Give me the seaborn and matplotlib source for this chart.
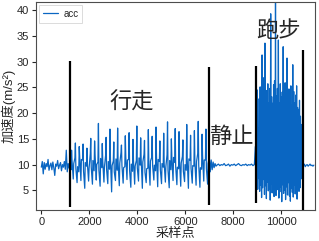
import numpy as np
import pandas as pd
import matplotlib
matplotlib.use("Agg")
import matplotlib.pyplot as plt
import seaborn as sns

# ---------------- data ----------------
# resting segment before walking (samples 0..1200, every 40 samples)
rest0 = [9.5, 10.6, 8.2, 10.4, 9.1, 10.2, 9.6, 11.0, 8.9, 9.8, 10.3, 9.0, 10.5, 9.4, 7.9,
         10.1, 9.7, 10.8, 9.2, 9.9, 10.4, 8.8, 10.0, 9.5, 10.6, 9.1, 12.8, 8.6, 10.2, 9.3, 10.8]

# walking: one step every 160 samples, five readings per step
walk_mid_up = [9.0, 11.3, 8.6, 10.9, 9.7, 12.1, 8.8, 10.5, 9.4, 11.8, 9.1, 10.7, 8.9, 12.3, 9.6,
               11.0, 8.7, 10.8, 9.9, 12.0, 9.3, 11.4, 8.8, 10.6, 9.5, 11.9, 9.0, 10.4, 9.2, 11.6,
               8.9, 10.8, 9.7, 12.2, 9.1, 10.9]
walk_peaks = [12.8, 14.2, 13.5, 14.0, 13.2, 15.1, 14.6, 18.0, 14.1, 15.3, 16.9, 14.4, 17.1, 13.8,
              15.6, 16.2, 14.9, 17.5, 15.2, 14.7, 16.8, 15.5, 17.3, 14.6, 16.1, 18.3, 15.0, 17.0,
              16.4, 14.8, 17.8, 15.7, 16.6, 18.4, 15.9, 16.9]
walk_mid_down = [10.8, 9.2, 11.4, 8.7, 10.1, 9.5, 11.9, 8.9, 10.6, 9.1, 11.2, 8.6, 10.3, 9.8, 11.5,
                 8.8, 10.9, 9.4, 11.1, 8.5, 10.4, 9.7, 11.6, 9.0, 10.2, 8.9, 11.3, 9.6, 10.7, 8.7,
                 11.0, 9.3, 10.5, 9.9, 11.7, 9.2]
walk_troughs = [7.2, 6.5, 6.9, 5.4, 6.8, 6.2, 7.0, 5.8, 6.6, 6.3, 4.7, 6.9, 5.9, 6.4, 7.1, 5.6,
                6.2, 6.8, 5.4, 6.5, 6.0, 7.0, 5.7, 6.3, 6.6, 5.5, 6.9, 6.1, 5.8, 6.7, 5.4, 6.4,
                6.0, 5.6, 6.8, 6.2]
walk_core = [10.2, 9.6, 11.0, 10.4, 9.3, 10.8, 10.0, 11.2, 9.5, 10.6, 9.8, 11.1, 10.3, 9.4, 10.9,
             10.1, 9.7, 11.3, 10.5, 9.2, 10.7, 9.9, 11.0, 10.2, 9.6, 10.8, 11.4, 9.5, 10.3, 10.0,
             11.1, 9.8, 10.6, 9.4, 10.9, 10.2]

# settling after walking (every 40 samples from 7000)
settle = [11.5, 8.6, 10.9, 9.0, 10.5, 9.4, 10.2, 9.7]

# standing still (every 60 samples from 7320)
rest1 = [9.9, 10.1, 9.8, 10.0, 9.9, 10.2, 9.8, 9.9, 10.1, 9.7, 10.0, 9.9, 10.1, 9.8,
         10.0, 10.2, 9.9, 9.8, 10.0, 9.9, 10.1, 9.8, 10.0, 9.9, 10.1, 9.8, 10.0]

# running: highs every 40 samples from 8920, lows in between
run_high = [13.5, 19.0, 24.5, 17.2, 22.8, 25.1, 20.4, 31.3, 23.6, 26.9, 33.6, 22.1, 24.4, 25.7,
            22.0, 24.8, 39.3, 23.2, 21.9, 25.5, 26.3, 41.5, 23.4, 24.8, 34.2, 22.0, 25.7, 23.2,
            24.1, 32.9, 22.7, 25.9, 21.4, 30.7, 23.8, 24.7, 22.5, 25.3, 21.6, 29.4, 24.2, 22.0,
            23.5, 25.3, 21.1, 20.7, 22.5, 19.4, 17.8, 15.2]
run_low = [8.1, 6.4, 5.2, 7.3, 4.8, 6.0, 3.6, 5.5, 7.1, 4.2, 5.9, 3.4, 6.6, 4.9, 5.3, 3.1, 6.2,
           4.5, 5.8, 3.8, 7.0, 4.0, 5.1, 6.3, 3.5, 4.7, 5.6, 2.8, 6.1, 4.4, 5.0, 3.2, 5.7, 4.1,
           6.5, 3.9, 2.9, 5.4, 4.6, 3.7, 6.0, 4.3, 5.2, 3.3, 6.8, 4.8, 5.5, 7.2, 8.0]

# resting after running (every 40 samples from 10920)
rest2 = [9.8, 10.1, 9.6, 9.9, 10.0, 9.7, 9.9, 10.1, 9.8, 9.9, 9.7, 9.9]

# segment boundaries (sample index, lower and upper end of marker line)
seg_x = [1200, 7000, 8950, 10900]
seg_lo = [1.8, 2.1, 2.5, 1.0]
seg_hi = [30.1, 29.0, 29.2, 32.3]

labels = ["行走", "静止", "跑步"]
label_x = [3780, 7925, 9900]
label_y = [22.1, 15.5, 36.0]

# ---------------- assemble series ----------------
idx_parts, val_parts = [], []
idx_parts.append(np.arange(len(rest0)) * 40)
val_parts.append(rest0)

n_steps = len(walk_peaks)
step_start = 1240 + np.arange(n_steps) * 160
step_offsets = np.array([0, 20, 40, 90, 110])
walk_idx = (step_start[:, None] + step_offsets[None, :]).ravel()
walk_vals = np.column_stack([walk_mid_up, walk_peaks, walk_mid_down,
                             walk_troughs, walk_core]).ravel()
idx_parts.append(walk_idx)
val_parts.append(walk_vals)

idx_parts.append(7000 + np.arange(len(settle)) * 40)
val_parts.append(settle)

idx_parts.append(7320 + np.arange(len(rest1)) * 60)
val_parts.append(rest1)

run_vals = np.empty(len(run_high) + len(run_low))
run_vals[0::2] = run_high
run_vals[1::2] = run_low
idx_parts.append(8920 + np.arange(len(run_vals)) * 20)
val_parts.append(run_vals)

idx_parts.append(10920 + np.arange(len(rest2)) * 40)
val_parts.append(rest2)

df = pd.DataFrame({"idx": np.concatenate(idx_parts),
                   "acc": np.concatenate([np.asarray(v, float) for v in val_parts])})

# ---------------- plot ----------------
sns.set_style("ticks")
plt.rcParams["font.family"] = ["Liberation Sans", "Noto Sans CJK SC"]

fig = plt.figure(figsize=(3.19, 2.41), dpi=100)
ax = fig.add_axes([0.113, 0.129, 0.874, 0.863])

line_color = "#0a66c2"
sns.lineplot(data=df, x="idx", y="acc", ax=ax, color=line_color, lw=0.9,
             label="acc", errorbar=None, sort=False)

ax.vlines(seg_x, seg_lo, seg_hi, colors="black", lw=1.6, zorder=5)

for t, x, y in zip(labels, label_x, label_y):
    ax.text(x, y, t, fontsize=16, ha="center", va="center",
            family=["Noto Sans CJK SC"], zorder=6)

ax.set_xlim(-220, 11400)
ax.set_ylim(1.2, 41.6)
ax.set_xticks([0, 2000, 4000, 6000, 8000, 10000])
ax.set_yticks([5, 10, 15, 20, 25, 30, 35, 40])
ax.tick_params(labelsize=8, length=3, width=0.8, pad=2)
ax.set_xlabel("采样点", fontsize=9.5, labelpad=1)
ax.set_ylabel("加速度(m/s²)", fontsize=9.5, labelpad=1)

for s in ax.spines.values():
    s.set_color("0.3")
    s.set_linewidth(0.8)

leg = ax.legend(loc="upper left", fontsize=7, handlelength=1.6, borderpad=0.4,
                handletextpad=0.5, borderaxespad=0.3, fancybox=False)
leg.get_frame().set_edgecolor("0.8")
leg.get_frame().set_linewidth(0.6)

fig.savefig("out.png", dpi=100)
